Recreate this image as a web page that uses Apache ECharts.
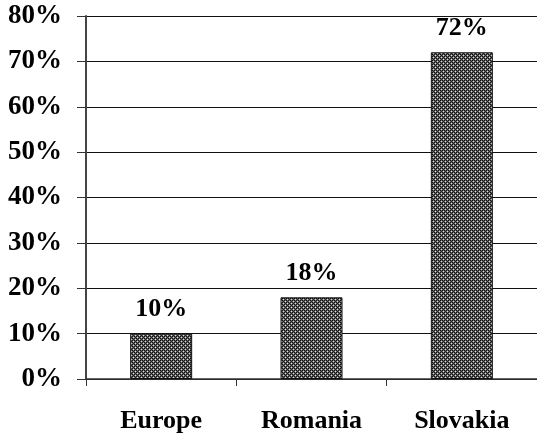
<!DOCTYPE html>
<html>
<head>
<meta charset="utf-8">
<script src="https://cdn.jsdelivr.net/npm/echarts@6/dist/echarts.min.js"></script>
<style>
  html, body { margin: 0; padding: 0; background: #fff; }
  #chart { width: 537px; height: 434px; }
</style>
</head>
<body>
<div id="chart"></div>
<script>
// data
const categories = ['Europe', 'Romania', 'Slovakia']
const shares = [10, 18, 72]
const yTicks = [0, 10, 20, 30, 40, 50, 60, 70, 80]

// crosshatch fill like the old excel pattern
function makePattern() {
  const c = document.createElement('canvas')
  c.width = 4
  c.height = 4
  const ctx = c.getContext('2d')
  const px = [
    ['#111', '#666', '#111', '#666'],
    ['#666', '#ddd', '#666', '#222'],
    ['#111', '#666', '#111', '#666'],
    ['#666', '#222', '#666', '#ddd'],
  ]
  for (let y = 0; y < 4; y++) {
    for (let x = 0; x < 4; x++) {
      ctx.fillStyle = px[y][x]
      ctx.fillRect(x, y, 1, 1)
    }
  }
  return c
}

const font = 'Liberation Serif, Times New Roman, serif'
const chart = echarts.init(document.getElementById('chart'))
chart.setOption({
  animation: false,
  grid: { left: 86, right: -2, top: 16, bottom: 55 },
  xAxis: {
    type: 'category',
    data: categories,
    axisLine: { lineStyle: { color: '#333', width: 1.5 } },
    axisTick: { show: true, length: 7, lineStyle: { color: '#333' } },
    axisLabel: {
      margin: 29,
      color: '#000',
      fontFamily: font,
      fontWeight: 'bold',
      fontSize: 26,
    },
  },
  yAxis: {
    type: 'value',
    min: yTicks[0],
    max: yTicks[yTicks.length - 1],
    interval: 10,
    axisLine: { show: true, lineStyle: { color: '#444', width: 2 } },
    axisTick: { show: true, length: 9, lineStyle: { color: '#333' } },
    axisLabel: {
      margin: 24,
      color: '#000',
      fontFamily: font,
      fontWeight: 'bold',
      fontSize: 27,
      formatter: v => v + '%',
    },
    splitLine: { lineStyle: { color: '#111', width: 1 } },
  },
  series: [
    {
      type: 'bar',
      data: shares,
      barWidth: 62,
      itemStyle: {
        color: { image: makePattern(), repeat: 'repeat' },
        borderColor: '#111',
        borderWidth: 1,
      },
      label: {
        show: true,
        position: 'top',
        distance: 11,
        color: '#000',
        fontFamily: font,
        fontWeight: 'bold',
        fontSize: 26,
        formatter: p => p.value + '%',
      },
    },
  ],
})
</script>
</body>
</html>
